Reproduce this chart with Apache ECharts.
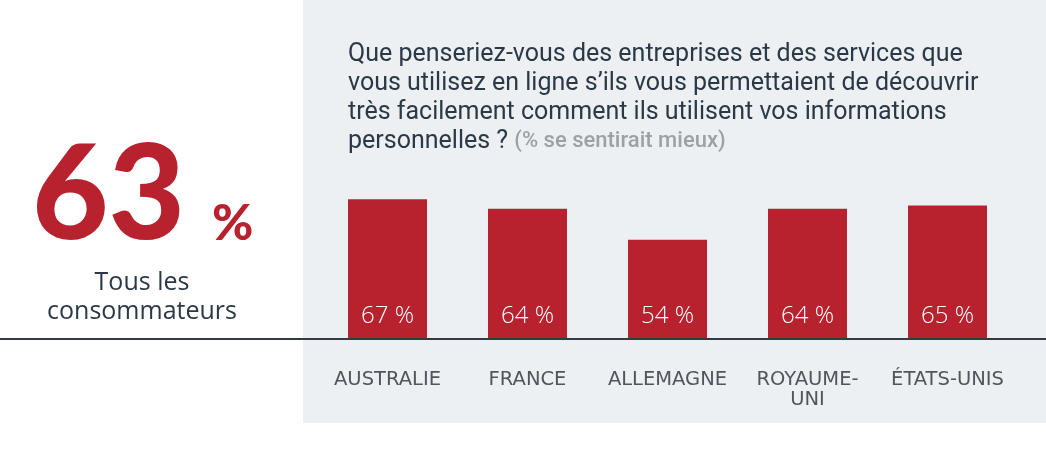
<!DOCTYPE html>
<html><head><meta charset="utf-8">
<script src="https://cdn.jsdelivr.net/npm/echarts@6/dist/echarts.min.js"></script>
<style>html,body{margin:0;padding:0;background:#fff;}#c{width:1046px;height:461px;}</style>
</head><body><div id="c"></div>
<script>
const categories = ['AUSTRALIE', 'FRANCE', 'ALLEMAGNE', 'ROYAUME-\nUNI', 'ÉTATS-UNIS'];
const values = [67, 64, 54, 64, 65];
const overallValue = 63;
const overallLabel = ['Tous les', 'consommateurs'];
const titleLines = [
  'Que penseriez-vous des entreprises et des services que',
  'vous utilisez en ligne s\u2019ils vous permettaient de découvrir',
  'très facilement comment ils utilisent vos informations',
  'personnelles ? '
];
const titleNote = '(% se sentirait mieux)';

const RED = '#b8222f';
const DARK = '#2b3946';
const chart = echarts.init(document.getElementById('c'), null, {renderer: 'canvas'});
chart.setOption({
  backgroundColor: '#ffffff',
  animation: false,
  title: {
    left: 343, top: 35,
    text: titleLines.slice(0, 3).map(s => '{q|' + s + '}').join('\n') + '\n{q|' + titleLines[3] + '}{g|' + titleNote + '}',
    textStyle: {
      rich: {
        q: {fontFamily: 'Roboto', fontSize: 25, fontWeight: 'normal', color: DARK, lineHeight: 29},
        g: {fontFamily: 'Roboto', fontSize: 22, fontWeight: 500, color: '#9ca1a6', lineHeight: 29}
      }
    }
  },
  grid: {left: 317.5, right: 28.5, top: 159, bottom: 122, containLabel: false},
  xAxis: {
    type: 'category', data: categories,
    axisLine: {show: false}, axisTick: {show: false},
    axisLabel: {margin: 31, fontFamily: 'DejaVu Sans', fontSize: 19.5, color: '#50565d', lineHeight: 20, interval: 0}
  },
  yAxis: {type: 'value', min: 22, max: 80, show: false, splitLine: {show: false}},
  series: [{
    type: 'bar', data: values, barWidth: 79,
    itemStyle: {color: RED},
    label: {
      show: true, position: 'insideBottom', distance: 11,
      formatter: '{c} %', color: '#ffffff', fontFamily: 'Open Sans', fontWeight: 300, fontSize: 24
    }
  }],
  graphic: [
    {type: 'rect', z: -10, shape: {x: 303, y: 0, width: 743, height: 423}, style: {fill: '#ecf0f3'}},
    {type: 'line', z: 100, shape: {x1: 0, y1: 339, x2: 1046, y2: 339}, style: {stroke: '#333b45', lineWidth: 2}},
    {type: 'text', left: 32, top: 130, style: {text: String(overallValue), fontFamily: 'Lato', fontWeight: 900, fontSize: 132, fill: RED}},
    {type: 'text', left: 212, top: 199, style: {text: '%', fontFamily: 'Lato', fontWeight: 900, fontSize: 50, fill: RED}},
    {type: 'text', x: 142, y: 283, style: {text: overallLabel[0], fontFamily: 'Open Sans', fontWeight: 500, fontSize: 25, fill: DARK, align: 'center', verticalAlign: 'middle'}},
    {type: 'text', x: 142, y: 312, style: {text: overallLabel[1], fontFamily: 'Open Sans', fontWeight: 500, fontSize: 25, fill: DARK, align: 'center', verticalAlign: 'middle'}}
  ]
});
</script></body></html>
